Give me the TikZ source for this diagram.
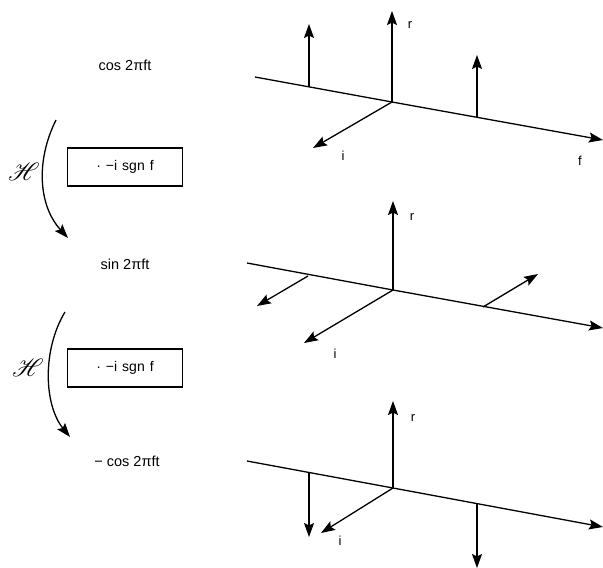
\documentclass[tikz,border=0pt]{standalone}
\usepackage{fontspec}
\setmainfont{Liberation Sans}
\usepackage{mathrsfs}
\usetikzlibrary{arrows.meta}
\tikzset{
  ax/.style={line width=1.3pt, -{Stealth[length=14pt,width=10pt,inset=2.5pt]}},
  ln/.style={line width=1.3pt},
  lbl/.style={font=\fontsize{14.5}{16}\selectfont, inner sep=0pt},
  albl/.style={font=\fontsize{13}{15}\selectfont, inner sep=0pt},
  opbox/.style={draw, line width=1.1pt, minimum width=115pt, minimum height=38pt, font=\fontsize{14}{16}\selectfont},
  hlbl/.style={font=\fontsize{26}{28}\selectfont, inner sep=0pt}
}
\begin{document}
\begin{tikzpicture}[x=1pt,y=-1pt]
\useasboundingbox (0,0) rectangle (603,568);
% ---------- left column ----------
\node[lbl] (t1) at (125,65) {cos\hspace{4pt}2πft};
\node[opbox] (b1) at (125,167) {·\hspace{5pt}−i\hspace{5pt}sgn\hspace{5pt}f};
\node[hlbl] (h1) at (24,172) {$\mathscr{H}$};
\coordinate (a1s) at (56,120);
\coordinate (a1e) at (68,238);
\draw[ax] (a1s) .. controls (36,160) and (38,205) .. (a1e);

\node[lbl] (t2) at (125,264) {sin\hspace{4pt}2πft};
\node[opbox] (b2) at (125,368) {·\hspace{5pt}−i\hspace{5pt}sgn\hspace{5pt}f};
\node[hlbl] (h2) at (28,368) {$\mathscr{H}$};
\coordinate (a2s) at (65,312);
\coordinate (a2e) at (70,437);
\draw[ax] (a2s) .. controls (42,350) and (44,405) .. (a2e);

\node[lbl] (t3) at (127,461) {−\hspace{4pt}cos\hspace{4pt}2πft};

% ---------- panel 1 ----------
\coordinate (o1) at (392,102);
\coordinate (fl1) at (255,77);
\coordinate (fr1) at (603,140);
\coordinate (r1) at (392,11);
\coordinate (i1) at (313,148);
\draw[ln] (fl1) -- (o1);
\draw[ax] (o1) -- (fr1);
\draw[ax] (o1) -- (r1);
\draw[ax] (o1) -- (i1);
\node[albl] (rl1) at (410,25) {r};
\node[albl] (il1) at (343,156) {i};
\node[albl] (fl1t) at (580,161) {f};
\coordinate (p1a) at (309,87);
\coordinate (p1at) at (309,24);
\coordinate (p1b) at (477,117);
\coordinate (p1bt) at (477,55);
\draw[ax] (p1a) -- (p1at);
\draw[ax] (p1b) -- (p1bt);

% ---------- panel 2 ----------
\coordinate (o2) at (393,290);
\coordinate (fl2) at (247,263);
\coordinate (fr2) at (603,328);
\coordinate (r2) at (393,201);
\coordinate (i2) at (304,343);
\draw[ln] (fl2) -- (o2);
\draw[ax] (o2) -- (fr2);
\draw[ax] (o2) -- (r2);
\draw[ax] (o2) -- (i2);
\node[albl] (rl2) at (412,217) {r};
\node[albl] (il2) at (335,354) {i};
\coordinate (p2a) at (308,276);
\coordinate (p2at) at (257,306);
\coordinate (p2b) at (483,307);
\coordinate (p2bt) at (538,274);
\draw[ax] (p2a) -- (p2at);
\draw[ax] (p2b) -- (p2bt);

% ---------- panel 3 ----------
\coordinate (o3) at (393,488);
\coordinate (fl3) at (247,461);
\coordinate (fr3) at (603,527);
\coordinate (r3) at (393,401);
\coordinate (i3) at (321,533);
\draw[ln] (fl3) -- (o3);
\draw[ax] (o3) -- (fr3);
\draw[ax] (o3) -- (r3);
\draw[ax] (o3) -- (i3);
\node[albl] (rl3) at (413,418) {r};
\node[albl] (il3) at (340,541) {i};
\coordinate (p3a) at (309,473);
\coordinate (p3at) at (309,537);
\coordinate (p3b) at (477,504);
\coordinate (p3bt) at (477,568);
\draw[ax] (p3a) -- (p3at);
\draw[ax] (p3b) -- (p3bt);
\end{tikzpicture}
\end{document}
